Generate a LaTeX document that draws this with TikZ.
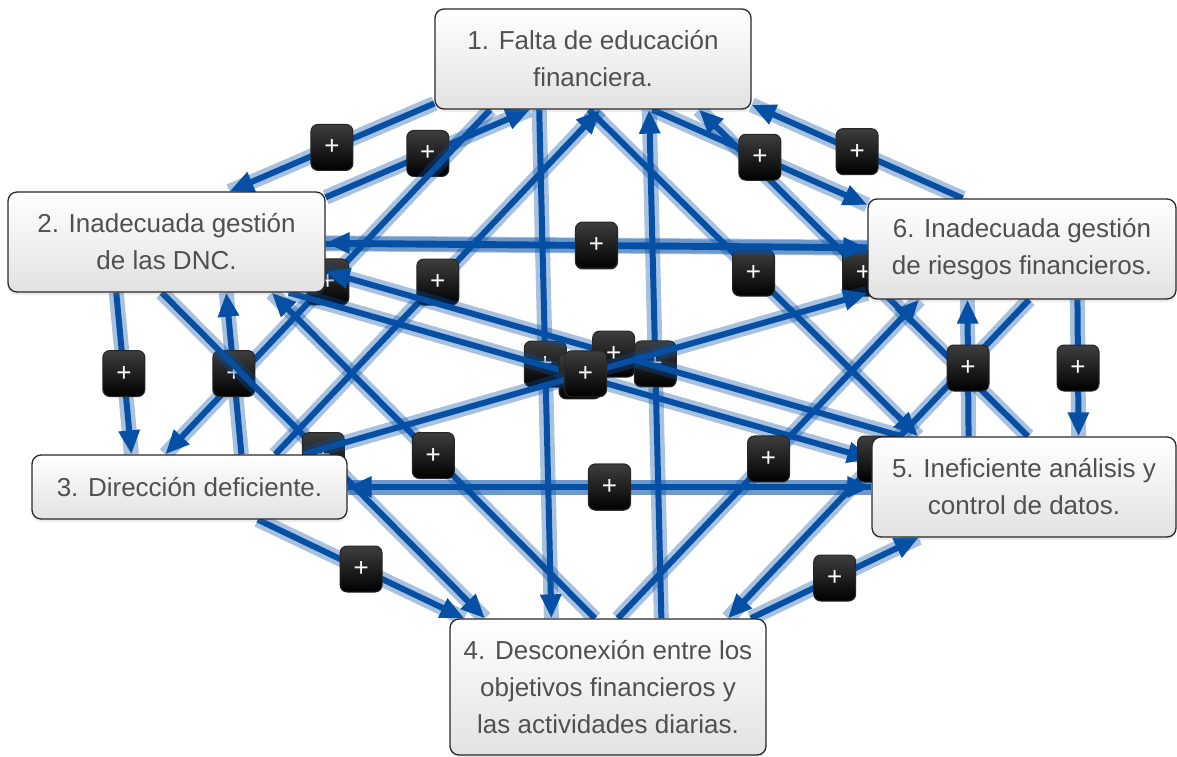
\documentclass[tikz,border=0pt]{standalone}
\usepackage{fontspec}
\setmainfont{Liberation Sans}
\usetikzlibrary{arrows.meta,calc,intersections,shadows,backgrounds}

\definecolor{linkblue}{RGB}{5,80,165}
\definecolor{boxtext}{RGB}{80,80,80}
\definecolor{boxline}{RGB}{40,40,40}
\definecolor{boxshade}{RGB}{226,226,226}
\definecolor{btntop}{RGB}{62,62,62}

\begin{document}
\begin{tikzpicture}[x=1pt, y=-1pt,
    causebox/.style={draw=boxline, line width=1.3pt, rounded corners=9pt,
      top color=white, bottom color=boxshade, text=boxtext, align=center,
      inner sep=0pt, font={\fontsize{26}{37}\selectfont},
      drop shadow={shadow xshift=0pt, shadow yshift=-3pt, opacity=0.15}},
    linkhalo/.style={draw=linkblue, line width=15pt, opacity=0.35},
    linkline/.style={draw=linkblue, line width=6pt, -{Triangle[length=24pt,width=20pt]}},
    plusbtn/.style={draw={black!85}, line width=1pt, rounded corners=7pt,
      top color=btntop, bottom color=black, text=white,
      minimum width=42pt, minimum height=46pt, inner sep=0pt,
      font={\fontsize{26}{26}\selectfont}}]

  \useasboundingbox (0,0) rectangle (1177,757);

  % Nodes
  \node[causebox, minimum width=316pt, minimum height=100pt] (n1) at (593,59) {1. Falta de educación\\financiera.};
  \node[causebox, minimum width=317pt, minimum height=100pt] (n2) at (166.5,242) {2. Inadecuada gestión\\de las DNC.};
  \node[causebox, minimum width=315pt, minimum height=64pt] (n3) at (189.5,487) {3. Dirección deficiente.};
  \node[causebox, minimum width=316pt, minimum height=136pt] (n4) at (608,687) {4. Desconexión entre los\\objetivos financieros y\\las actividades diarias.};
  \node[causebox, minimum width=304pt, minimum height=100pt] (n5) at (1024,487) {5. Ineficiente análisis y\\control de datos.};
  \node[causebox, minimum width=308pt, minimum height=100pt] (n6) at (1022,249) {6. Inadecuada gestión\\de riesgos financieros.};

  % Borders, for cutting the links
  \foreach \i in {1,...,6}
    \path[name path global=b\i] (n\i.south west) rectangle (n\i.north east);

  % Links: source/target/shift
  \begin{scope}[on background layer]
    \fill[white] (0,0) rectangle (1177,757);
    \foreach \s/\t/\h in {1/2/-55, 2/1/55, 1/3/-55, 3/1/55, 1/4/-55, 4/1/55,
        1/5/-55, 5/1/55, 1/6/-55, 6/1/55, 2/3/-55, 3/2/55, 2/4/-55, 4/2/55,
        2/5/-55, 5/2/55, 2/6/-55, 6/2/55, 3/4/0, 3/5/-55, 5/3/55, 3/6/0,
        4/5/0, 4/6/-55, 6/4/55, 5/6/-55, 6/5/55} {
      \path[name path=ln] ([xshift=\h pt]n\s.center) -- ([xshift=\h pt]n\t.center);
      \path[name intersections={of=ln and b\s, by=u\s\t}];
      \path[name intersections={of=ln and b\t, by=v\s\t}];
      \draw[linkhalo] (u\s\t) -- (v\s\t);
      \draw[linkline] (u\s\t) -- (v\s\t);
      \node[plusbtn] (p\s\t) at ($(u\s\t)!0.5!(v\s\t)$) {+};
    }
  \end{scope}
\end{tikzpicture}
\end{document}
